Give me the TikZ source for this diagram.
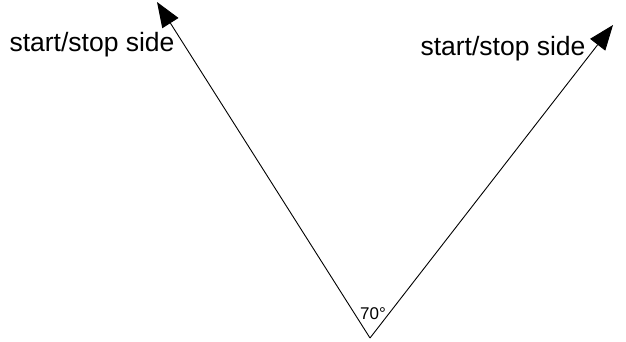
\documentclass[tikz,border=0pt]{standalone}
\usepackage{fontspec}
\setmainfont{Liberation Sans}
\usetikzlibrary{arrows.meta}
\tikzset{
  sidearrow/.style={-{Triangle[length=25pt,width=19pt]},line width=0.9pt},
  sidelabel/.style={font=\fontsize{26.5}{30}\selectfont,inner sep=0pt},
  anglelabel/.style={font=\fontsize{17}{19}\selectfont,inner sep=0pt}
}
\begin{document}
\begin{tikzpicture}[x=1pt,y=-1pt]
  \useasboundingbox (0,0) rectangle (626,342);
  % 顶点和两条边的端点
  \coordinate (apex) at (370,338);
  \coordinate (lefttip) at (157,2);
  \coordinate (righttip) at (613,25);
  % 两条边
  \draw[sidearrow] (apex) -- (lefttip);
  \draw[sidearrow] (apex) -- (righttip);
  % 标注
  \node[sidelabel] (leftlabel) at (92,45) {start/stop side};
  \node[sidelabel] (rightlabel) at (503,49) {start/stop side};
  \node[anglelabel] (angle) at (373,314) {70°};
\end{tikzpicture}
\end{document}
